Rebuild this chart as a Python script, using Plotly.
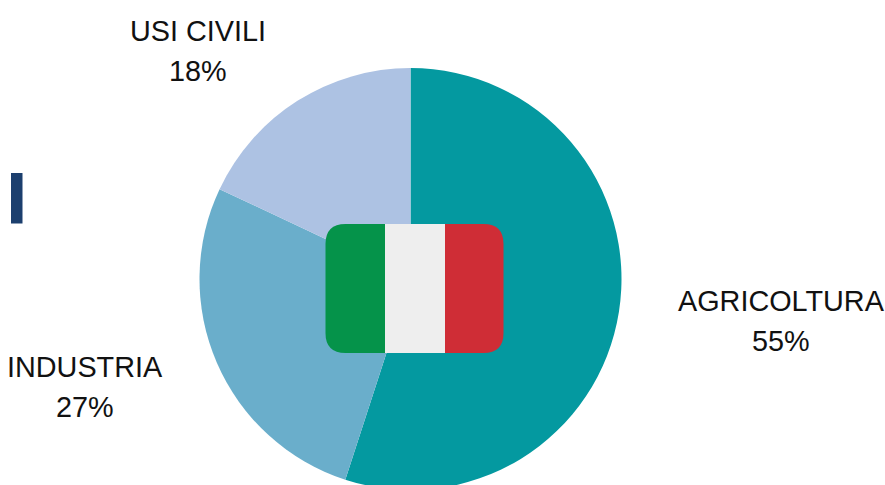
import plotly.graph_objects as go

categories = ["AGRICOLTURA", "INDUSTRIA", "USI CIVILI"]
values = [55, 27, 18]
slice_colors = ["#0499A0", "#6AAECB", "#ADC2E3"]
label_x = [781, 85, 198]
name_y = [301, 367, 31]
pct_y = [340.5, 406.5, 70.5]

W, H = 885, 495
FONT = "Liberation Sans"

def px(x):
    return x / W

def py(y):
    return 1 - y / H

def pie_domain(cx, cy, r):
    return dict(x=[px(cx - r), px(cx + r)], y=[py(cy + r), py(cy - r)])

def flag_path(x0, x1, y0, y1, r, side):
    P = lambda x, y: f"{px(x)},{py(y)}"
    if side == "left":
        return (f"M{P(x1, y0)} L{P(x0 + r, y0)} Q{P(x0, y0)} {P(x0, y0 + r)} "
                f"L{P(x0, y1 - r)} Q{P(x0, y1)} {P(x0 + r, y1)} L{P(x1, y1)} Z")
    return (f"M{P(x0, y0)} L{P(x1 - r, y0)} Q{P(x1, y0)} {P(x1, y0 + r)} "
            f"L{P(x1, y1 - r)} Q{P(x1, y1)} {P(x1 - r, y1)} L{P(x0, y1)} Z")

fig = go.Figure(go.Pie(
    labels=categories,
    values=values,
    sort=False,
    direction="clockwise",
    rotation=0,
    textinfo="none",
    hoverinfo="label+percent",
    marker=dict(colors=slice_colors, line=dict(width=0)),
    domain=pie_domain(410.5, 279, 211),
    showlegend=False,
))

shapes = [
    dict(type="path", path=flag_path(325.5, 385, 224, 353, 20, "left"), fillcolor="#05934A", line_width=0),
    dict(type="rect", x0=px(385), x1=px(445), y0=py(353), y1=py(224), fillcolor="#EEEEEE", line_width=0),
    dict(type="path", path=flag_path(445, 503.5, 224, 353, 20, "right"), fillcolor="#CF2D36", line_width=0),
    dict(type="rect", x0=px(11), x1=px(22.5), y0=py(223.5), y1=py(173), fillcolor="#1C3F6E", line_width=0),
]
for s in shapes:
    s.update(xref="paper", yref="paper", layer="above")

annotations = []
for c, v, x, y1, y2 in zip(categories, values, label_x, name_y, pct_y):
    for text, y in ((c, y1), (f"{v}%", y2)):
        annotations.append(dict(
            x=px(x), y=py(y), xref="paper", yref="paper", xanchor="center", yanchor="middle",
            showarrow=False, align="center", text=text,
            font=dict(family=FONT, size=28.8, color="#111111")))

fig.update_layout(
    width=W, height=H,
    margin=dict(l=0, r=0, t=0, b=0),
    paper_bgcolor="white",
    shapes=shapes,
    annotations=annotations,
)

fig.write_html(
    "out.html",
    config={"displayModeBar": False},
    post_script="document.documentElement.style.overflow='hidden';document.body.style.overflow='hidden';document.body.style.margin='0';",
)
